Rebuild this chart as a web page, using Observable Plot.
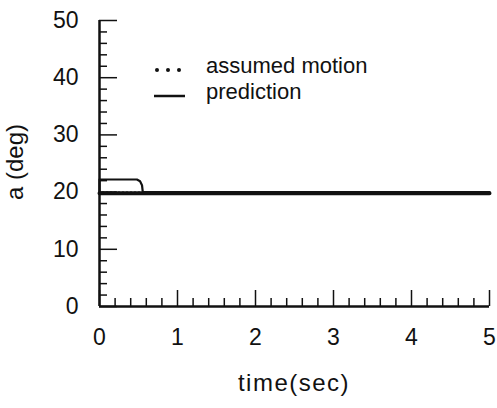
<!DOCTYPE html>
<html><head><meta charset="utf-8">
<script src="https://cdn.jsdelivr.net/npm/d3@7"></script>
<script src="https://cdn.jsdelivr.net/npm/@observablehq/plot@0.6"></script>
<style>
body{margin:0;background:#fff;font-family:"Liberation Sans",Arial,sans-serif;}
#wrap{position:relative;width:497px;height:408px;}
</style>
</head><body>
<div id="wrap"><div id="chart"></div></div>
<script>
const assumedTime = [0, 5];
const assumedAngle = [19.8, 19.8];
const predTime = [0, 0, 0.48, 0.52, 0.545, 0.555, 5];
const predAngle = [20, 22.2, 22.2, 21.9, 21.2, 20, 20];
const xTicks = [0, 1, 2, 3, 4, 5];
const yTicks = [0, 10, 20, 30, 40, 50];
const xMinor = [0.2,0.4,0.6,0.8,1.2,1.4,1.6,1.8,2.2,2.4,2.6,2.8,3.2,3.4,3.6,3.8,4.2,4.4,4.6,4.8];
const yMinor = [2,4,6,8,12,14,16,18,22,24,26,28,32,34,36,38,42,44,46,48];
const legendLabels = ["assumed motion", "prediction"];

const assumed = assumedTime.map((t,i)=>({t, a: assumedAngle[i]}));
const pred = predTime.map((t,i)=>({t, a: predAngle[i]}));

const W = 497, H = 408, mL = 99, mR = 8, mT = 20, mB = 102;
const pw = W - mL - mR, ph = H - mT - mB;

const chart = Plot.plot({
  width: W, height: H,
  marginLeft: mL, marginRight: mR, marginTop: mT, marginBottom: mB,
  style: {fontFamily: '"Liberation Sans", Arial, sans-serif', color: "#111", background: "white"},
  x: {domain: [0, 5]},
  y: {domain: [0, 50]},
  marks: [
    Plot.axisX({ticks: xTicks, tickSize: 0, tickPadding: 22, fontSize: 23, tickFormat: d => d, label: null}),
    Plot.axisY({ticks: yTicks, tickSize: 0, tickPadding: 21, fontSize: 23, tickFormat: d => d, label: null}),
    Plot.tickX(xTicks, {x: d => d, insetTop: ph - 16, strokeWidth: 1.5, stroke: "#111"}),
    Plot.tickX(xMinor, {x: d => d, insetTop: ph - 8, strokeWidth: 1.5, stroke: "#111"}),
    Plot.tickY(yTicks, {y: d => d, insetRight: pw - 18, strokeWidth: 1.5, stroke: "#111"}),
    Plot.tickY(yMinor, {y: d => d, insetRight: pw - 8, strokeWidth: 1.5, stroke: "#111"}),
    Plot.ruleX([0], {strokeWidth: 2.5, stroke: "#111"}),
    Plot.ruleY([0], {strokeWidth: 2.5, stroke: "#111"}),
    Plot.line(assumed, {x: "t", y: "a", stroke: "#111", strokeWidth: 4, strokeDasharray: "3,1"}),
    Plot.line(pred, {x: "t", y: "a", stroke: "#111", strokeWidth: 2.2, curve: "linear"})
  ]
});
document.getElementById("chart").appendChild(chart);

const svg = d3.select(chart);
svg.append("text").attr("transform", "translate(17,162) rotate(-90)")
  .attr("text-anchor", "middle").attr("dominant-baseline", "middle")
  .attr("font-size", 24).attr("fill", "#111").text("a (deg)");
svg.append("text").attr("x", mL + pw / 2).attr("y", 385)
  .attr("text-anchor", "middle").attr("dominant-baseline", "middle")
  .attr("letter-spacing", 1.5)
  .attr("font-size", 24).attr("fill", "#111").text("time(sec)");

// legend
const lg = svg.append("g").attr("fill", "#111").attr("text-anchor", "start");
[157, 168, 179].forEach(x => lg.append("circle").attr("cx", x).attr("cy", 70).attr("r", 2));
lg.append("line").attr("x1", 154).attr("x2", 185).attr("y1", 96).attr("y2", 96)
  .attr("stroke", "#111").attr("stroke-width", 2.5);
lg.append("text").attr("x", 206).attr("y", 73).attr("font-size", 22).text(legendLabels[0]);
lg.append("text").attr("x", 206).attr("y", 99).attr("font-size", 22).text(legendLabels[1]);
</script>
</body></html>
